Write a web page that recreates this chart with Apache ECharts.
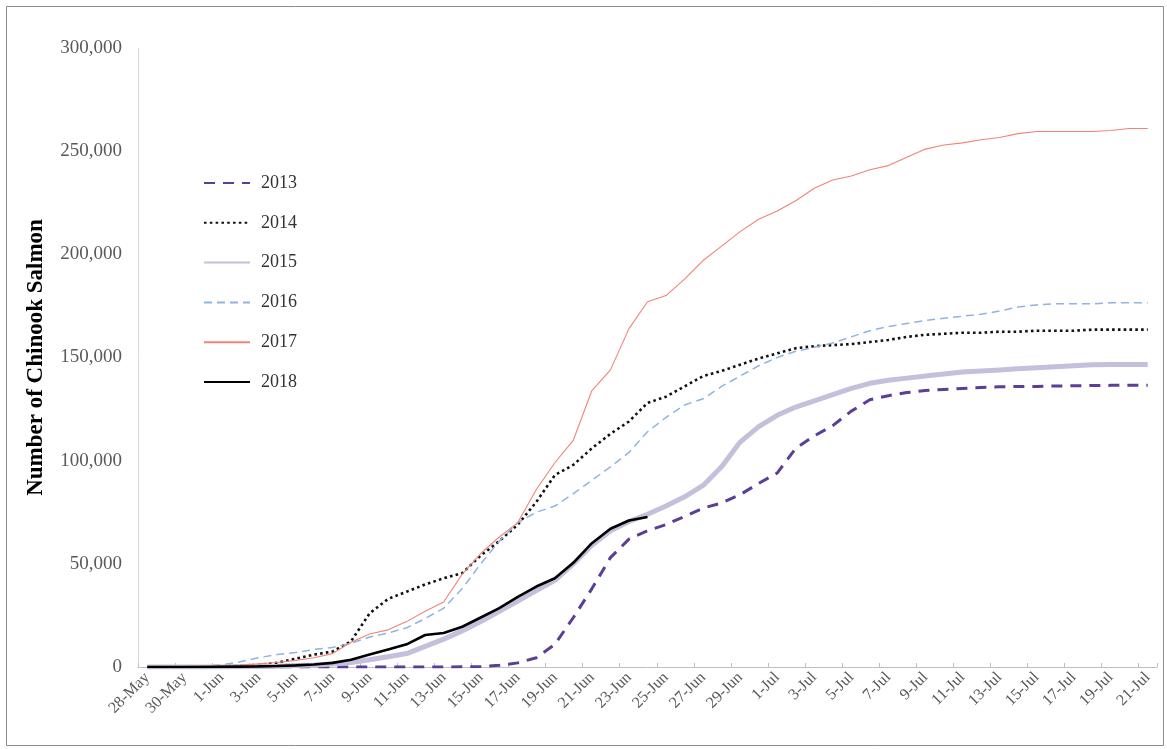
<!DOCTYPE html>
<html>
<head>
<meta charset="utf-8">
<script src="https://cdn.jsdelivr.net/npm/echarts@6/dist/echarts.min.js"></script>
<style>
html,body{margin:0;padding:0;background:#fff;}
#chart{width:1167px;height:749px;}
</style>
</head>
<body>
<div id="chart"></div>
<script>
const categories = [
 '28-May','29-May','30-May','31-May',
 '1-Jun','2-Jun','3-Jun','4-Jun','5-Jun','6-Jun','7-Jun','8-Jun','9-Jun','10-Jun',
 '11-Jun','12-Jun','13-Jun','14-Jun','15-Jun','16-Jun','17-Jun','18-Jun','19-Jun','20-Jun',
 '21-Jun','22-Jun','23-Jun','24-Jun','25-Jun','26-Jun','27-Jun','28-Jun','29-Jun','30-Jun',
 '1-Jul','2-Jul','3-Jul','4-Jul','5-Jul','6-Jul','7-Jul','8-Jul','9-Jul','10-Jul',
 '11-Jul','12-Jul','13-Jul','14-Jul','15-Jul','16-Jul','17-Jul','18-Jul','19-Jul','20-Jul','21-Jul'
];
const yTicks = [0, 50000, 100000, 150000, 200000, 250000, 300000];
const yTitle = 'Number of Chinook Salmon';
const seriesNames = ['2013','2014','2015','2016','2017','2018'];

const s2013 = [0,0,0,0,0,0,0,0,0,0,0,0,0,0,0,0,0,
 100,200,800,2000,4500,11000,24000,38000,53000,62000,66000,69000,73000,77000,79500,83500,89000,
 94000,106000,112000,117000,124000,129500,131500,133000,134000,134500,135000,135500,135800,
 136000,136000,136200,136300,136400,136500,136500,136500];
const s2014 = [0,0,0,100,300,600,1000,2000,4000,6000,7500,12500,26000,33000,36500,40000,43000,45500,
 54000,61000,69000,80000,93000,98000,106000,113000,119000,128000,131000,136000,141000,143500,146500,149500,
 152000,154500,155500,156000,156500,157500,158500,160000,161000,161500,162000,162000,162500,162500,
 163000,163000,163000,163500,163500,163500,163500];
const s2015 = [0,0,0,0,0,100,200,400,700,1000,1500,2200,3500,5000,6500,10000,13500,17500,22000,27000,
 32000,37000,42000,50000,59000,66000,70500,74000,78000,82500,88000,97000,109000,116500,
 122000,126000,129000,132000,135000,137500,139000,140000,141000,142000,143000,143500,144000,
 144500,145000,145500,146000,146500,146600,146600,146600];
const s2016 = [0,0,200,500,1000,2500,4500,6000,7000,8500,9500,11500,14500,16500,19000,23500,28500,
 38000,50000,61000,70000,75000,78000,84000,90500,97000,104000,114000,121000,127000,130000,136000,141000,146000,
 150000,153000,155000,157000,160000,163000,165000,166500,168000,169000,170000,171000,172500,
 174500,175500,176000,176000,176000,176500,176500,176500];
const s2017 = [0,0,200,400,700,1000,1500,2200,3200,4500,6500,12000,16000,18000,22000,27000,31500,
 45000,55000,63000,70000,86000,99000,110000,134000,144000,164000,177000,180000,188000,197000,204000,211000,217000,
 221000,226000,232000,236000,238000,241000,243000,247000,251000,253000,254000,255500,256600,
 258500,259500,259500,259500,259500,260000,261000,261000];
const s2018 = [0,0,0,0,100,200,300,500,800,1200,2000,3500,6000,8500,11000,15500,16500,19500,
 24000,28500,34000,39000,43000,50500,60000,67000,71000,72700];

const serif = '"Liberation Serif","Times New Roman",serif';
const seriesData = [s2013, s2014, s2015, s2016, s2017, s2018];
const styles = [
  {color:'#5B3E96', width:3, type:[11,8]},
  {color:'#111111', width:2.6, type:[2.6,3.2]},
  {color:'#C4BFDA', width:5, type:'solid'},
  {color:'#8DB4E2', width:1.5, type:[8,5]},
  {color:'#EF8478', width:1.1, type:'solid'},
  {color:'#000000', width:2.6, type:'solid'}
];

const chart = echarts.init(document.getElementById('chart'), null, {renderer:'canvas'});
chart.setOption({
  animation:false,
  backgroundColor:'#ffffff',
  graphic:[{
    type:'rect', shape:{x:6.5,y:6.5,width:1157,height:739},
    style:{fill:'none', stroke:'#8c8c8c', lineWidth:1}, silent:true, z:-1
  }],
  grid:{left:138, right:10, top:48, bottom:82, containLabel:false},
  legend:{
    orient:'vertical', left:198, top:169,
    itemWidth:46, itemHeight:14, itemGap:21.8,
    data:seriesNames,
    itemStyle:{opacity:0},
    textStyle:{fontFamily:serif, fontSize:18, color:'#333333', padding:[0,0,0,6]}
  },
  xAxis:{
    type:'category', data:categories, boundaryGap:true,
    axisLine:{lineStyle:{color:'#BFBFBF', width:1}},
    axisTick:{show:true, inside:true, length:4, interval:1, lineStyle:{color:'#BFBFBF'}},
    axisLabel:{interval:1, rotate:45, fontFamily:serif, fontSize:16, color:'#595959', margin:8}
  },
  yAxis:{
    type:'value', min:yTicks[0], max:yTicks[yTicks.length-1], interval:yTicks[1]-yTicks[0],
    name:yTitle, nameLocation:'middle', nameRotate:90, nameGap:90,
    nameTextStyle:{fontFamily:serif, fontSize:23, fontWeight:'bold', color:'#000000'},
    splitLine:{show:false},
    axisLine:{show:true, lineStyle:{color:'#D9D9D9', width:1}},
    axisTick:{show:false},
    axisLabel:{fontFamily:serif, fontSize:19, color:'#595959', margin:16,
      formatter:v => v.toLocaleString('en-US')}
  },
  series: seriesNames.map((n,k)=>({
    name:n, type:'line', data:seriesData[k], symbol:'none', smooth:false,
    lineStyle:{color:styles[k].color, width:styles[k].width, type:styles[k].type},
    itemStyle:{color:styles[k].color},
    z:2+k
  }))
});
</script>
</body>
</html>
